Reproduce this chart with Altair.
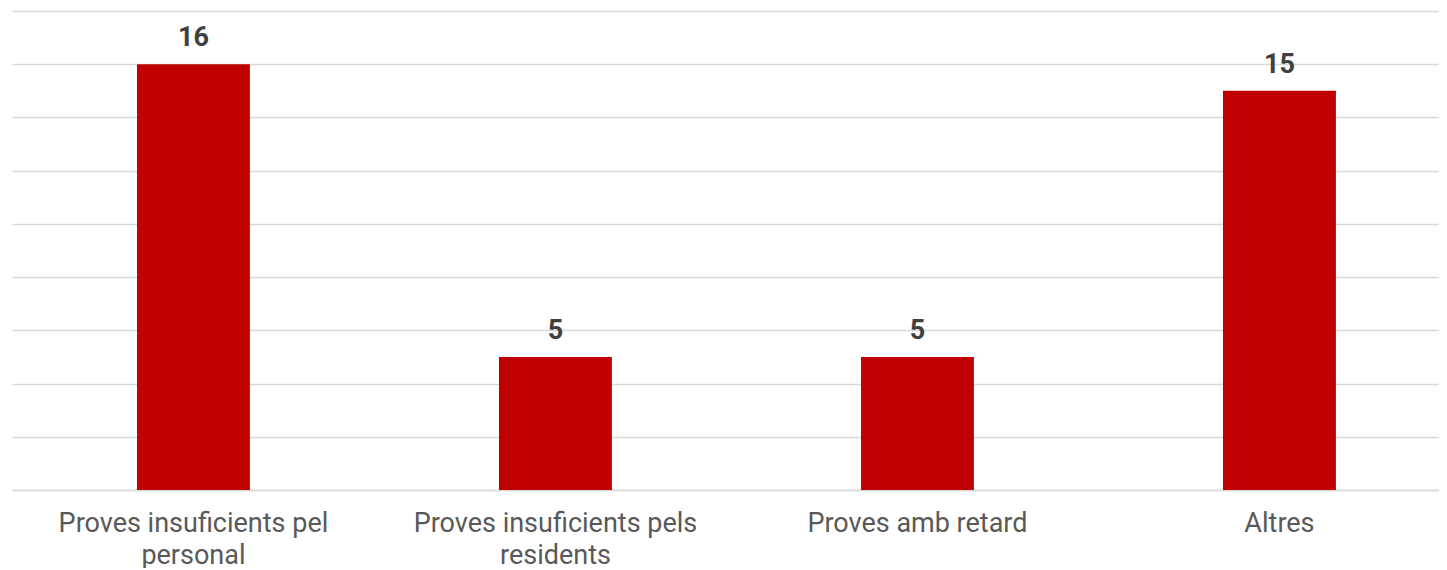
import altair as alt
import pandas as pd

categories = ["Proves insuficients pel personal", "Proves insuficients pels residents", "Proves amb retard", "Altres"]
values = [16, 5, 5, 15]
label_lines = [["Proves insuficients pel", "personal"], ["Proves insuficients pels", "residents"], ["Proves amb retard"], ["Altres"]]

df = pd.DataFrame({"cat": categories, "val": values})

expr = ""
for c, lines in zip(categories, label_lines):
    arr = "[" + ",".join("'" + l + "'" for l in lines) + "]"
    expr += f"datum.label == '{c}' ? {arr} : "
expr += "datum.label"

x = alt.X("cat:N", sort=categories, title=None,
          scale=alt.Scale(paddingInner=0.688, paddingOuter=0.315, align=0.548),
          axis=alt.Axis(labelAngle=0, labelExpr=expr, labelFont="Roboto", labelFontSize=27,
                        labelColor="#595959", labelLineHeight=32, labelPadding=20,
                        ticks=False, domainColor="#d9d9d9", domainWidth=1.5, labelLimit=500))
y = alt.Y("val:Q", title=None, scale=alt.Scale(domain=[0, 18], nice=False),
          axis=alt.Axis(values=list(range(0, 19, 2)), labels=False, ticks=False, domain=False,
                        gridColor="#d9d9d9", gridWidth=1.5))

bars = alt.Chart(df).mark_bar(color="#c00000").encode(x=x, y=y)
text = alt.Chart(df).mark_text(font="Roboto", fontSize=27, fontWeight="bold", color="#404040",
                               baseline="alphabetic", dy=-18).encode(
    x=alt.X("cat:N", sort=categories), y="val:Q", text="val:Q")

chart = (bars + text).properties(width=1427, height=479, padding={"left": 4, "top": 3, "right": 0, "bottom": 0}).configure_view(stroke=None)
chart.save("out.html", embed_options={"renderer": "svg", "actions": False})
